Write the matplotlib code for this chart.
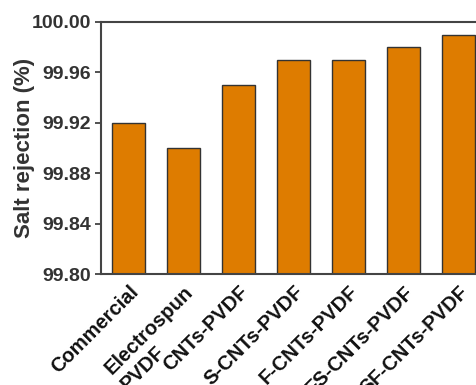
import matplotlib.pyplot as plt

categories = ['Commercial', 'Electrospun\nPVDF', 'CNTs-PVDF', 'S-CNTs-PVDF',
              'F-CNTs-PVDF', 'FS-CNTs-PVDF', 'SF-CNTs-PVDF']
rejection = [99.92, 99.90, 99.95, 99.97, 99.97, 99.98, 99.99]
yticks = [99.80, 99.84, 99.88, 99.92, 99.96, 100.00]

plt.rcParams['font.family'] = ['Liberation Sans', 'DejaVu Sans']
plt.rcParams['font.weight'] = 'bold'

fig = plt.figure(figsize=(4.76, 3.85), dpi=100)
ax = fig.add_axes([0.212, 0.288, 0.809, 0.655])

x = list(range(len(categories)))
ax.bar(x, rejection, width=0.6, color='#DE7C00', edgecolor='#333333', linewidth=1.0)

ax.set_xlim(-0.5, 6.5)
ax.set_ylim(99.80, 100.00)
ax.set_yticks(yticks)
ax.set_yticklabels([f'{v:.2f}' for v in yticks], fontsize=14, fontweight='bold', color='#333333')
ax.set_xticks(x)
ax.set_xticklabels(categories, rotation=45, ha='right', rotation_mode='anchor',
                   fontsize=14.5, fontweight='bold', color='#111111', multialignment='left')
ax.tick_params(axis='x', length=0, pad=6)
ax.tick_params(axis='y', direction='out', length=4, width=1.2, color='#333333', pad=3)
ax.set_ylabel('Salt rejection (%)', fontsize=16, fontweight='bold', color='#333333')
ax.yaxis.set_label_coords(-0.171, 0.5)

for s in ax.spines.values():
    s.set_linewidth(1.5)
    s.set_color('#444444')

fig.savefig('out.png', dpi=100)
